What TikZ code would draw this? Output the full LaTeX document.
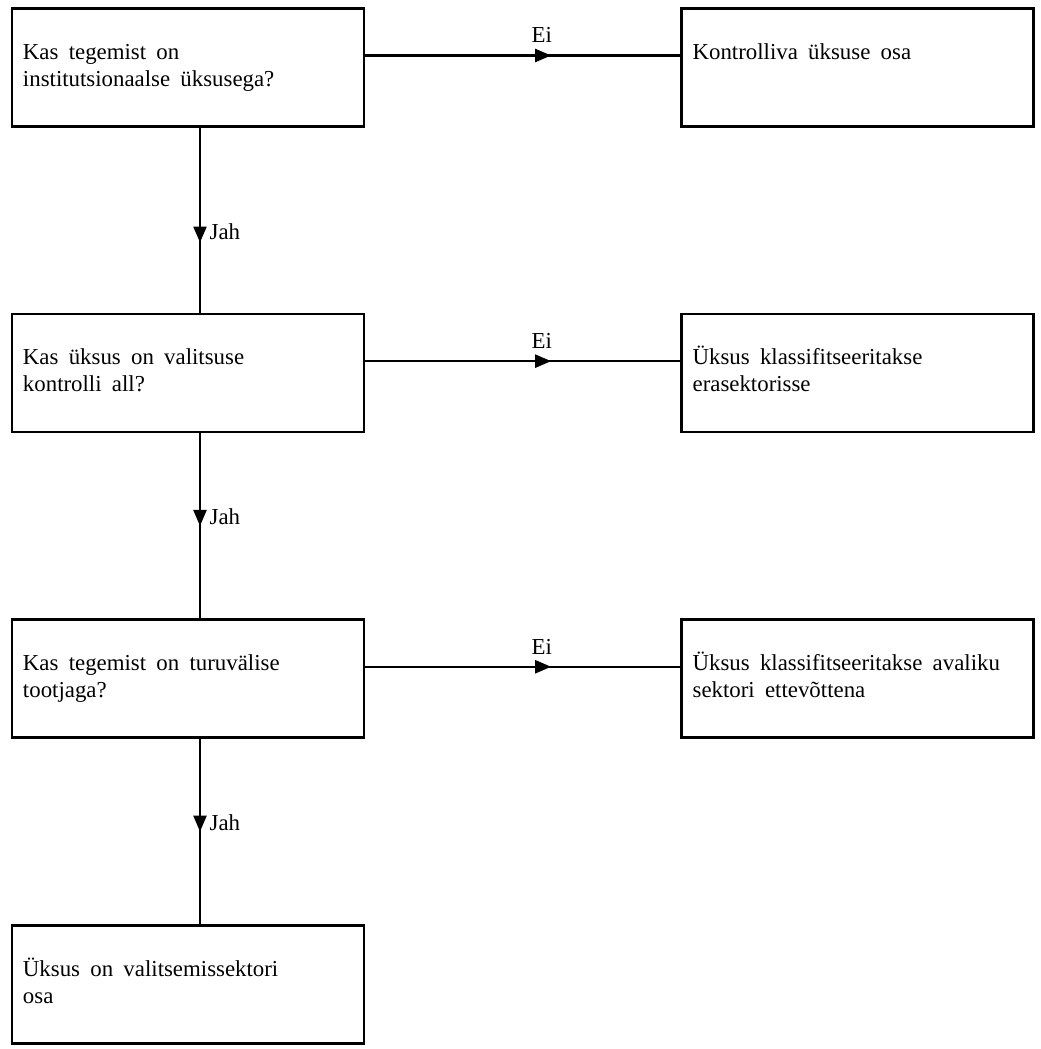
\documentclass[tikz,border=0pt]{standalone}
\usepackage{fontspec}
\setmainfont{Liberation Serif}
\usepackage{tikz}
\usetikzlibrary{arrows.meta,positioning,decorations.markings}

% text in a box: top left, fixed box height
\newcommand{\boxtxt}[1]{\parbox[t][2.36cm][t]{6.6cm}{\raggedright\spaceskip=0.45em\relax\vspace*{0.64cm}\strut #1}}

\begin{document}
\begin{tikzpicture}[
    node distance=3.70cm and 6.3cm,
    font=\fontsize{13}{15.3}\selectfont,
    qbox/.style={rectangle, draw=black, line width=1.5pt, inner xsep=0.22cm, inner ysep=0pt, minimum width=7.04cm, minimum height=2.36cm},
    flowline/.style={line width=1.3pt, draw=black, postaction={decorate},
        decoration={markings, mark=at position #1 with {\arrow{Triangle[length=0.32cm, width=0.26cm]}}}},
    flowline/.default=0.5,
    lbl/.style={inner sep=2pt}
]
    \useasboundingbox (0,0) rectangle (20.8,-20.98);

    \node [qbox] (q1) at (3.76,-1.35) {\boxtxt{Kas tegemist on\\institutsionaalse üksusega?}};
    \node [qbox, right=of q1] (a1) {\boxtxt{Kontrolliva üksuse osa}};
    \node [qbox, below=of q1] (q2) {\boxtxt{Kas üksus on valitsuse\\kontrolli all?}};
    \node [qbox, right=of q2] (a2) {\boxtxt{Üksus klassifitseeritakse\\erasektorisse}};
    \node [qbox, below=of q2] (q3) {\boxtxt{Kas tegemist on turuvälise\\tootjaga?}};
    \node [qbox, right=of q3] (a3) {\boxtxt{Üksus klassifitseeritakse avaliku\\sektori ettevõttena}};
    \node [qbox, below=of q3] (q4) {\boxtxt{Üksus on valitsemissektori\\osa}};

    % Ei branches
    \draw [flowline=0.59] ([yshift=0.24cm]q1.east) -- node[lbl, pos=0.56, above=0.16cm] (e1) {Ei} ([yshift=0.24cm]a1.west);
    \draw [flowline=0.59] ([yshift=0.24cm]q2.east) -- node[lbl, pos=0.56, above=0.16cm] (e2) {Ei} ([yshift=0.24cm]a2.west);
    \draw [flowline=0.59] ([yshift=0.24cm]q3.east) -- node[lbl, pos=0.56, above=0.16cm] (e3) {Ei} ([yshift=0.24cm]a3.west);

    % Jah branches
    \draw [flowline=0.62] ([xshift=0.24cm]q1.south) -- node[lbl, pos=0.56, right=0.1cm] (j1) {Jah} ([xshift=0.24cm]q2.north);
    \draw [flowline=0.5] ([xshift=0.24cm]q2.south) -- node[lbl, pos=0.45, right=0.1cm] (j2) {Jah} ([xshift=0.24cm]q3.north);
    \draw [flowline=0.5] ([xshift=0.24cm]q3.south) -- node[lbl, pos=0.45, right=0.1cm] (j3) {Jah} ([xshift=0.24cm]q4.north);
\end{tikzpicture}
\end{document}
